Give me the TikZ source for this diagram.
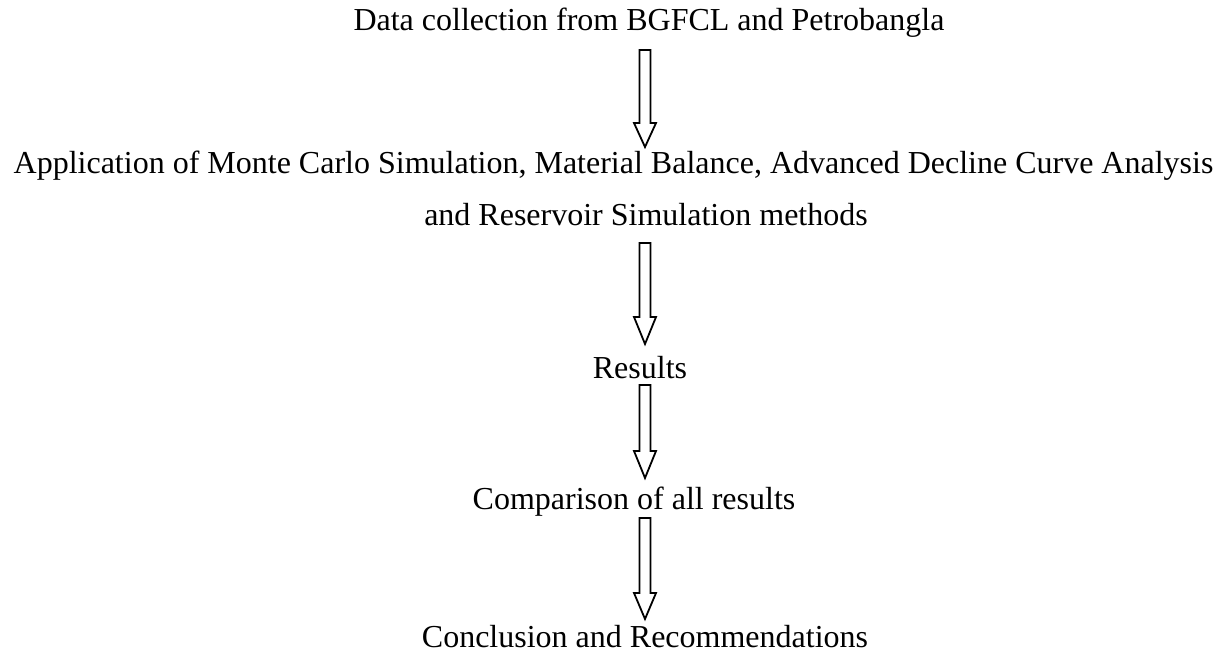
\documentclass[tikz,border=0pt]{standalone}
\usepackage{fontspec}
\setmainfont{Liberation Serif}
\usetikzlibrary{calc}
\tikzset{
  lbl/.style={anchor=base, inner sep=0pt, font=\fontsize{32}{38}\selectfont},
  blockarr/.style={draw=black, line width=1.8pt, line join=miter, fill=white}
}
\newcommand{\blockarrow}[3]{% start, end, head length
  \draw[blockarr] ($(#1)+(-5.5,0)$) -- ($(#1)+(5.5,0)$) -- ($(#2)+(5.5,-#3)$) -- ($(#2)+(11,-#3)$) -- (#2) -- ($(#2)+(-11,-#3)$) -- ($(#2)+(-5.5,-#3)$) -- cycle;}
\begin{document}
\begin{tikzpicture}[x=1pt,y=-1pt]
\useasboundingbox (0,0) rectangle (1228,660);
\node[lbl] (t1) at (649,31) {Data collection from BGFCL and Petrobangla};
\node[lbl] (t2a) at (613.5,174) {Application of Monte Carlo Simulation, Material Balance, Advanced Decline Curve Analysis};
\node[lbl] (t2b) at (646,226) {and Reservoir Simulation methods};
\node[lbl] (t3) at (640,378) {Results};
\node[lbl] (t4) at (634,509) {Comparison of all results};
\node[lbl] (t5) at (645,647) {Conclusion and Recommendations};
\coordinate (a1s) at (645,50);  \coordinate (a1e) at (645,147);
\coordinate (a2s) at (645,243); \coordinate (a2e) at (645,344);
\coordinate (a3s) at (645,385); \coordinate (a3e) at (645,478);
\coordinate (a4s) at (645,518); \coordinate (a4e) at (645,619);
\blockarrow{a1s}{a1e}{24}
\blockarrow{a2s}{a2e}{27}
\blockarrow{a3s}{a3e}{27}
\blockarrow{a4s}{a4e}{26}
\end{tikzpicture}
\end{document}
